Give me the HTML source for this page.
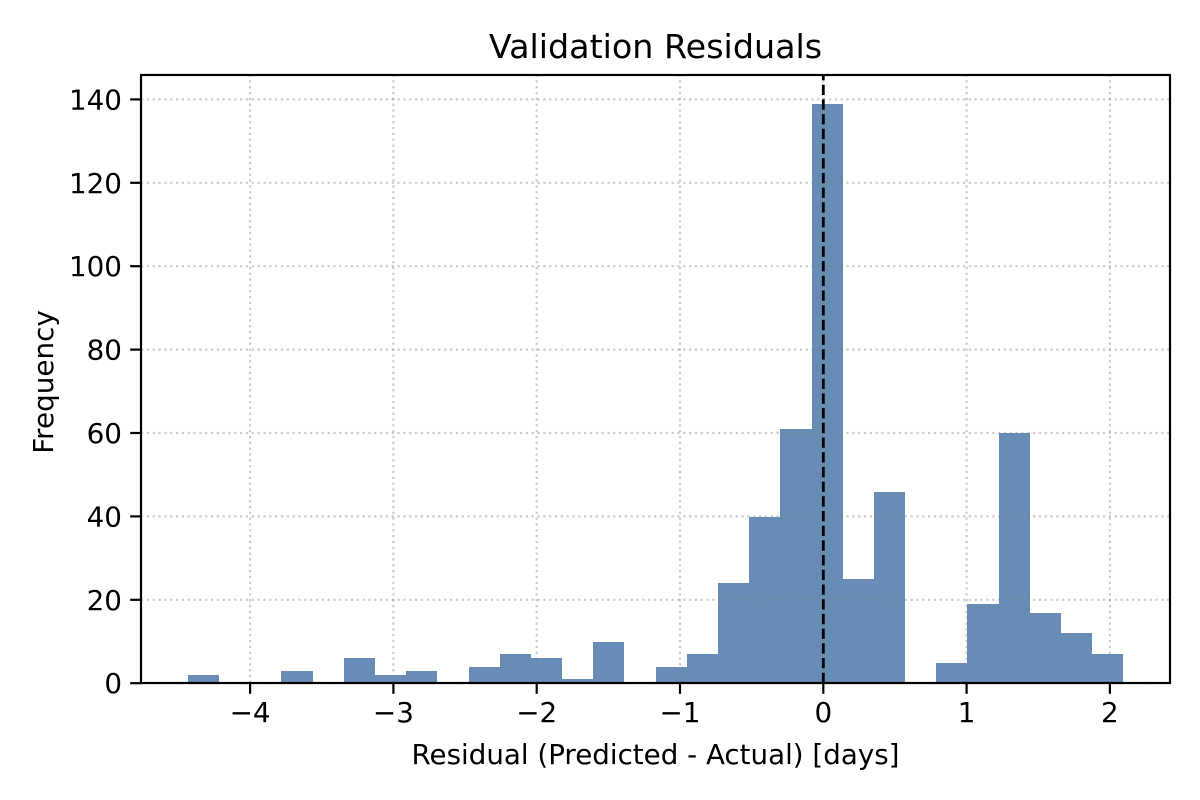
<!DOCTYPE html>
<html lang="en">
<head>
<meta charset="utf-8">
<title>Validation Residuals</title>
<style>
html,body{margin:0;padding:0;background:#fff;width:1200px;height:800px;overflow:hidden}
svg{display:block}
text{font-family:"DejaVu Sans",sans-serif;fill:#000}
</style>
</head>
<body>
<svg id="chart" xmlns="http://www.w3.org/2000/svg" width="1200" height="800" viewBox="0 0 1200 800">
<rect width="1200" height="800" fill="#fff"/>
<text x="655.5" y="58" font-size="33.35" text-anchor="middle">Validation Residuals</text>
<text x="655.5" y="764" font-size="27.8" text-anchor="middle" textLength="488" lengthAdjust="spacingAndGlyphs">Residual (Predicted - Actual) [days]</text>
<text transform="translate(53 382) rotate(-90)" font-size="27.8" text-anchor="middle">Frequency</text>
<g id="bars" shape-rendering="crispEdges"></g>
<g id="grid"></g>
<g id="ref"></g>
<g id="ticks"></g>
<rect x="141" y="75" width="1029" height="608" fill="none" stroke="#000" stroke-width="2.2"/>
</svg>
<script>
const binStart = -4.434;
const binWidth = 0.2176;
const counts = [2,0,0,3,0,6,2,3,0,4,7,6,1,10,0,4,7,24,40,61,139,25,46,0,5,19,60,17,12,7];
const xTicks = [-4,-3,-2,-1,0,1,2];
const yTicks = [0,20,40,60,80,100,120,140];
const referenceValue = 0;

const NS = 'http://www.w3.org/2000/svg';
const plot = {left:141, right:1170, top:75, bottom:683};
function xScale(v){ return 823.3 + 143.3 * v; }
function yScale(v){ return 683.2 - 4.17 * v; }
function make(tag, parent, attrs){
  const el = document.createElementNS(NS, tag);
  for (const k in attrs) el.setAttribute(k, attrs[k]);
  parent.appendChild(el);
  return el;
}
const grid = document.getElementById('grid');
const bars = document.getElementById('bars');
const ref = document.getElementById('ref');
const ticks = document.getElementById('ticks');
const gridStyle = {stroke:'#808080','stroke-opacity':0.4,'stroke-width':2.2,'stroke-dasharray':'2.2 3.63',fill:'none'};
const tickStyle = {stroke:'#000','stroke-width':2.2};

xTicks.forEach(function(t){
  const x = xScale(t);
  const g = make('line', grid, Object.assign({x1:x,x2:x,y1:plot.bottom,y2:plot.top}, gridStyle));
  
  
  const m = make('line', ticks, Object.assign({x1:x,x2:x,y1:plot.bottom,y2:plot.bottom+10.8}, tickStyle));
  
  
  const l = make('text', ticks, {x:x,y:722,'font-size':27.8,'text-anchor':'middle'});
  l.textContent = (t < 0 ? '\u2212' + Math.abs(t) : String(t));
  
  
});

yTicks.forEach(function(t){
  const y = yScale(t);
  const g = make('line', grid, Object.assign({x1:plot.left,x2:plot.right,y1:y,y2:y}, gridStyle));
  
  
  const m = make('line', ticks, Object.assign({x1:plot.left-10.8,x2:plot.left,y1:y,y2:y}, tickStyle));
  
  
  const l = make('text', ticks, {x:122,y:y+10,'font-size':27.8,'text-anchor':'end'});
  l.textContent = String(t);
  
  
});

counts.forEach(function(c, i){
  if (c <= 0) return;
  const x0 = Math.round(xScale(binStart + i * binWidth));
  const x1 = Math.round(xScale(binStart + (i + 1) * binWidth));
  const y = Math.round(yScale(c) + 0.2);
  const r = make('rect', bars, {x:x0,y:y,width:x1-x0,height:plot.bottom-y,fill:'#4c78a8','fill-opacity':0.85});
  
  
});

const vx = xScale(referenceValue);
const v = make('line', ref, {x1:vx,x2:vx,y1:plot.bottom,y2:plot.top,stroke:'#000','stroke-width':2.8,'stroke-dasharray':'10.3 4.4'});


</script>
</body>
</html>
